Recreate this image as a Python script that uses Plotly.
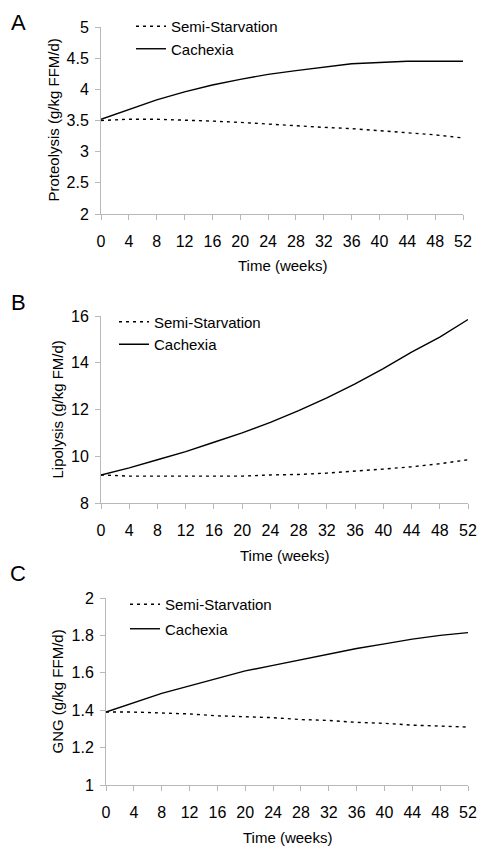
import plotly.graph_objects as go

weeks = [0, 4, 8, 12, 16, 20, 24, 28, 32, 36, 40, 44, 48, 52]
x_ticks = list(range(0, 53, 4))

# Panel A: Proteolysis (g/kg FFM/d)
prot_semi = [3.50, 3.52, 3.52, 3.51, 3.49, 3.47, 3.44, 3.42, 3.39, 3.37, 3.34, 3.31, 3.27, 3.22]
prot_cach = [3.52, 3.68, 3.83, 3.96, 4.07, 4.16, 4.24, 4.30, 4.36, 4.41, 4.43, 4.45, 4.45, 4.45]

# Panel B: Lipolysis (g/kg FM/d)
lipo_semi = [9.20, 9.15, 9.15, 9.15, 9.15, 9.15, 9.20, 9.22, 9.28, 9.35, 9.45, 9.55, 9.68, 9.85]
lipo_cach = [9.20, 9.50, 9.85, 10.20, 10.60, 11.00, 11.45, 11.95, 12.50, 13.10, 13.75, 14.45, 15.10, 15.85]

# Panel C: GNG (g/kg FFM/d)
gng_semi = [1.390, 1.390, 1.385, 1.380, 1.370, 1.365, 1.360, 1.350, 1.345, 1.335, 1.330, 1.320, 1.315, 1.310]
gng_cach = [1.390, 1.440, 1.490, 1.530, 1.570, 1.610, 1.640, 1.670, 1.700, 1.730, 1.755, 1.780, 1.800, 1.815]

OFF = 8  # page body margin
W, H = 492 - OFF, 858 - OFF
FONT = "Liberation Sans, Arial, sans-serif"
AXC = "#b8b8b8"

def px_x(p):
    return (p - OFF) / W

def px_y(p):
    return 1 - (p - OFF) / H

panels = [
    dict(semi=prot_semi, cach=prot_cach, xdom=(101, 463), ydom=(27, 214), yr=[2, 5], dt=0.5,
         ytitle="Proteolysis (g/kg FFM/d)", ytx=53, letter="A", lx=18, ly=22,
         legx=131, legy=10, gap=0),
    dict(semi=lipo_semi, cach=lipo_cach, xdom=(101, 468), ydom=(316, 503), yr=[8, 16], dt=2,
         ytitle="Lipolysis (g/kg FM/d)", ytx=57, letter="B", lx=18, ly=302,
         legx=114, legy=305.5, gap=0),
    dict(semi=gng_semi, cach=gng_cach, xdom=(106, 468), ydom=(598, 785), yr=[1, 2], dt=0.2,
         ytitle="GNG (g/kg FFM/d)", ytx=57, letter="C", lx=18, ly=573,
         legx=125, legy=588, gap=2),
]

fig = go.Figure()
annotations = []
layout = {}
for i, p in enumerate(panels, start=1):
    sfx = "" if i == 1 else str(i)
    legname = "legend" if i == 1 else f"legend{i}"
    fig.add_trace(go.Scatter(x=weeks, y=p["semi"], mode="lines", name="Semi-Starvation",
                             line=dict(color="black", width=1.4, dash="3px,4px"),
                             xaxis=f"x{sfx}", yaxis=f"y{sfx}", legend=legname,
                             legendgroup=f"s{i}"))
    fig.add_trace(go.Scatter(x=weeks, y=p["cach"], mode="lines", name="Cachexia",
                             line=dict(color="black", width=1.4),
                             xaxis=f"x{sfx}", yaxis=f"y{sfx}", legend=legname,
                             legendgroup=f"c{i}"))
    layout[f"xaxis{sfx}"] = dict(
        domain=[px_x(p["xdom"][0]), px_x(p["xdom"][1])], anchor=f"y{sfx}",
        range=[0, 52], tickvals=x_ticks, showgrid=False, zeroline=False, automargin=False,
        showline=True, linecolor=AXC, linewidth=1, ticks="outside", ticklen=5,
        tickcolor=AXC, tickfont=dict(family=FONT, size=16, color="black"),
        ticklabelstandoff=8)
    layout[f"yaxis{sfx}"] = dict(
        domain=[px_y(p["ydom"][1]), px_y(p["ydom"][0])], anchor=f"x{sfx}",
        range=p["yr"], dtick=p["dt"], tick0=p["yr"][0], showgrid=False, zeroline=False,
        automargin=False,
        showline=True, linecolor=AXC, linewidth=1, ticks="outside", ticklen=5,
        tickcolor=AXC, tickfont=dict(family=FONT, size=16, color="black"),
        ticklabelstandoff=3)
    layout[legname] = dict(
        x=px_x(p["legx"]), y=px_y(p["legy"]), xanchor="left", yanchor="top",
        bgcolor="rgba(0,0,0,0)", borderwidth=0,
        font=dict(family=FONT, size=15, color="black"), tracegroupgap=p["gap"])
    annotations.append(dict(text=p["ytitle"], textangle=-90, xref="paper", yref="paper",
                            x=px_x(p["ytx"]), y=px_y((p["ydom"][0] + p["ydom"][1]) / 2),
                            showarrow=False, font=dict(family=FONT, size=15, color="black"),
                            xanchor="center", yanchor="middle"))
    annotations.append(dict(text="Time (weeks)", xref="paper", yref="paper",
                            x=px_x((p["xdom"][0] + p["xdom"][1]) / 2), y=px_y(p["ydom"][1] + 52),
                            showarrow=False, font=dict(family=FONT, size=15, color="black"),
                            xanchor="center", yanchor="middle"))
    annotations.append(dict(text=p["letter"], xref="paper", yref="paper",
                            x=px_x(p["lx"]), y=px_y(p["ly"]), showarrow=False,
                            font=dict(family=FONT, size=22, color="black"),
                            xanchor="center", yanchor="middle"))

fig.update_layout(**layout)
fig.update_layout(width=W, height=H, margin=dict(l=0, r=0, t=0, b=0, autoexpand=False),
                  paper_bgcolor="white", plot_bgcolor="white",
                  annotations=annotations, showlegend=True)
fig.write_html("out.html")
